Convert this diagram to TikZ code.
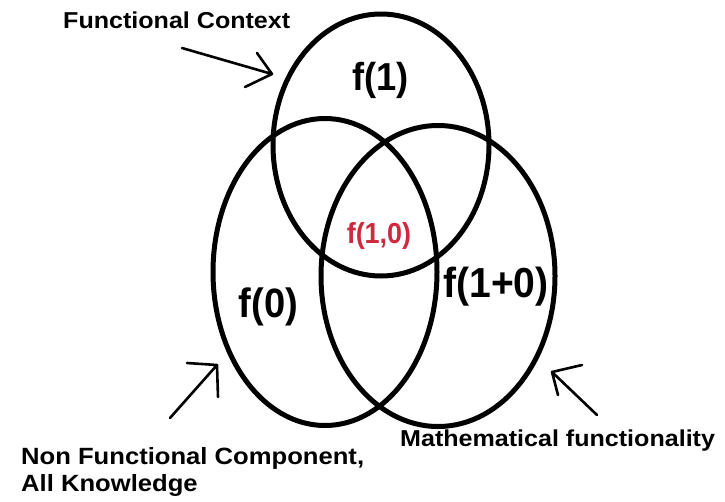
\documentclass[tikz,border=0pt]{standalone}
\usepackage{fontspec}
\usetikzlibrary{shapes.geometric}
\setmainfont{Liberation Sans}
\newfontfamily\lblfont[FakeStretch=1.09]{Liberation Sans}
\newfontfamily\ffont[FakeStretch=0.93]{Liberation Sans}
\definecolor{fred}{RGB}{205,42,62}
\tikzset{
  setring/.style={draw=black, line width=5pt, shape=ellipse, inner sep=0pt, outer sep=0pt},
  flabel/.style={anchor=base, inner sep=0pt},
  sidelabel/.style={inner sep=0pt},
  handarrow/.style={draw=black, line width=2.6pt, line cap=round, line join=round}
}
\begin{document}
\begin{tikzpicture}[x=1pt,y=-1pt]
\useasboundingbox (0,0) rectangle (725,501);
% the three sets
\node[setring, minimum width=216pt, minimum height=262pt] (ctx) at (381,145) {};
\node[setring, minimum width=224pt, minimum height=307pt] (nonf) at (325,272) {};
\node[setring, minimum width=234pt, minimum height=301pt] (math) at (438,276) {};
% labels inside
\node[flabel, font=\ffont\bfseries\fontsize{39}{42}\selectfont] (f1) at (380.5,90) {f(1)};
\node[flabel, text=fred, font=\ffont\bfseries\fontsize{29}{31}\selectfont] (f10) at (379,243) {f(1,0)};
\node[flabel, font=\ffont\bfseries\fontsize{41}{44}\selectfont] (f0) at (268.5,317) {f(0)};
\node[flabel, font=\ffont\bfseries\fontsize{42}{44}\selectfont] (f1p0) at (496,297) {f(1+0)};
% outer labels
\node[sidelabel, anchor=base west, font=\lblfont\bfseries\fontsize{23}{27}\selectfont] (lctx) at (63,28) {Functional Context};
\node[sidelabel, anchor=north west, align=left, font=\lblfont\bfseries\fontsize{23.5}{27}\selectfont] (lnonf) at (21,447) {Non Functional Component,\\All Knowledge};
\node[sidelabel, anchor=base west, font=\lblfont\bfseries\fontsize{23}{27}\selectfont] (lmath) at (400,446) {Mathematical functionality};
% hand-drawn arrows
\coordinate (aTail) at (182,48);
\coordinate (aTip) at (272,74);
\coordinate (aH1) at (257,53);
\coordinate (aH2) at (245,87);
\draw[handarrow] (aTail) -- (aTip) (aH1) -- (aTip) -- (aH2);
\coordinate (bTail) at (170,418);
\coordinate (bTip) at (217,365);
\coordinate (bH1) at (187,363);
\coordinate (bH2) at (218,397);
\draw[handarrow] (bTail) -- (bTip) (bH1) -- (bTip) -- (bH2);
\coordinate (cTail) at (597,415);
\coordinate (cTip) at (552,372);
\coordinate (cH1) at (582,365);
\coordinate (cH2) at (558,395);
\draw[handarrow] (cTail) -- (cTip) (cH1) -- (cTip) -- (cH2);
\end{tikzpicture}
\end{document}
